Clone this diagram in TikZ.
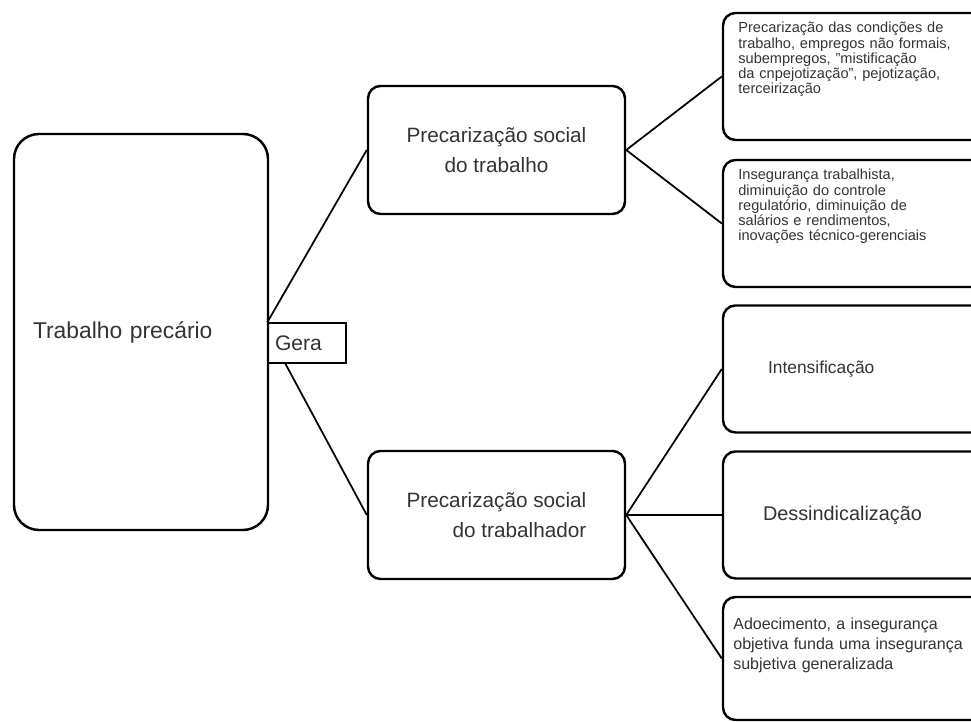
\documentclass[tikz,border=0pt]{standalone}
\usepackage{fontspec}
\setmainfont{Liberation Sans}
\usepackage{tikz}

\begin{document}
\begin{tikzpicture}
			\tikzstyle{Root}	= [draw, rounded corners=0.5cm, line width=1.4pt, minimum width=5.08cm, minimum height=7.92cm, text width=4.32cm, align=left, inner xsep=0pt, text=black!80, font=\fontsize{13}{16}\selectfont]
			\tikzstyle{Tag}		= [draw, line width=0.8pt, minimum width=1.56cm, minimum height=0.8cm, text width=1.28cm, align=left, inner xsep=0pt, text=black!80, font=\fontsize{12}{14}\selectfont]
			\tikzstyle{Mid}		= [draw, rounded corners=0.25cm, line width=1.4pt, minimum width=5.14cm, minimum height=2.56cm, text=black!80, font=\fontsize{11.8}{17}\selectfont]
			\tikzstyle{Leaf}	= [draw, rounded corners=0.25cm, line width=1.4pt, minimum width=5.74cm, minimum height=2.54cm, align=left, inner xsep=0pt, text=black!80]
			\tikzstyle{Small}	= [anchor=north west, inner sep=0pt, text width=4.8cm, align=left, text=black!80]
			\tikzstyle{Link}	= [line width=1pt]
			
			\useasboundingbox (0,0) rectangle (19.42,14.44);
			\clip (0,0) rectangle (19.42,14.44);
			
			\node (tp) at (2.82, 7.80) [Root] {Trabalho precário};
			\node (gera) at (6.14, 7.58) [Tag] {Gera};
			
			\node (ps1) at (9.93, 11.44) [Mid, align=center] {Precarização social\\do trabalho};
			\node (ps2) at (9.93, 4.14) [Mid, align=right] {Precarização social\\do trabalhador};
			
			\node (c1) at (17.33, 12.91) [Leaf] {};
			\node (c2) at (17.33, 9.97) [Leaf] {};
			\node (c3) at (17.33, 7.06) [Leaf, text width=3.94cm, font=\fontsize{9.9}{12}\selectfont] {Intensificação};
			\node (c4) at (17.33, 4.14) [Leaf, text width=4.14cm, font=\fontsize{11.3}{13}\selectfont] {Dessindicalização};
			\node (c5) at (17.33, 1.27) [Leaf, minimum height=2.46cm] {};
			
			\node (t1) at (14.76, 14.00) [Small, font=\fontsize{8.3}{8.6}\selectfont] {Precarização das condições de\\trabalho, empregos não formais,\\subempregos, "mistificação\\da cnpejotização", pejotização,\\terceirização};
			\node (t2) at (14.76, 11.06) [Small, font=\fontsize{8.3}{8.6}\selectfont] {Insegurança trabalhista,\\diminuição do controle\\regulatório, diminuição de\\salários e rendimentos,\\inovações técnico-gerenciais};
			\node (t5) at (14.66, 2.08) [Small, font=\fontsize{9.1}{11.4}\selectfont] {Adoecimento, a insegurança\\objetiva funda uma insegurança\\subjetiva generalizada};
			
			\coordinate (g2) at (5.70, 7.18);
			
			\draw [-] (gera.north west) to (ps1.west) [Link];
			\draw [-] (g2) to (ps2.west) [Link];
			\draw [-] (ps1.east) to (c1.west) [Link];
			\draw [-] (ps1.east) to (c2.west) [Link];
			\draw [-] (ps2.east) to (c3.west) [Link];
			\draw [-] (ps2.east) to (c4.west) [Link];
			\draw [-] (ps2.east) to (c5.west) [Link];
		\end{tikzpicture}
\end{document}
